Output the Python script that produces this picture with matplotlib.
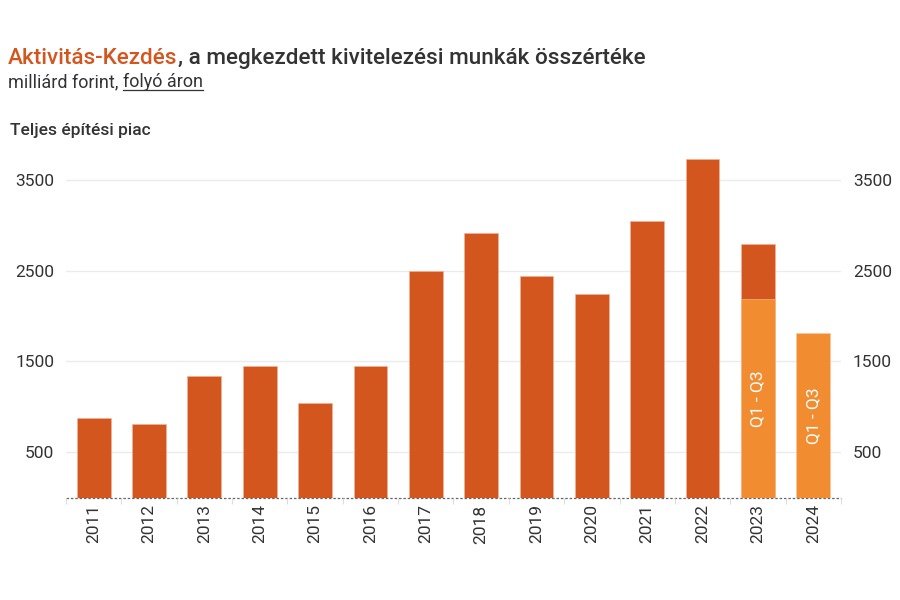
import matplotlib.pyplot as plt
import numpy as np
from matplotlib.lines import Line2D

# Adatok (milliárd forint, folyó áron)
evek = ["2011", "2012", "2013", "2014", "2015", "2016", "2017",
        "2018", "2019", "2020", "2021", "2022", "2023", "2024"]
teljes_ev = [876, 816, 1341, 1451, 1047, 1451, 2493,
             2912, 2444, 2246, 3047, 3728, 2797, None]
q1_q3 = [None] * 12 + [2184, 1813]
y_tickek = [500, 1500, 2500, 3500]

SOTET = "#D4561F"
VILAGOS = "#F28C30"
SZOVEG = "#333333"

plt.rcParams['font.family'] = ['Roboto', 'DejaVu Sans']

fig = plt.figure(figsize=(9, 6), dpi=100)
ax = fig.add_axes([0.0733, 0.1708, 0.8611, 0.5745])

x = np.arange(len(evek))
szel = 0.61

# Teljes év oszlopok
for i, v in enumerate(teljes_ev):
    if v is not None:
        ax.bar(x[i], v, width=szel, color=SOTET, edgecolor="#F5B49A", linewidth=0.4, zorder=2)

# Q1 - Q3 oszlopok
for i, v in enumerate(q1_q3):
    if v is not None:
        ax.bar(x[i], v, width=szel, color=VILAGOS, edgecolor="#F9C79A", linewidth=0.4, zorder=3)
        ax.text(x[i], v / 2, "Q1 - Q3", rotation=90, ha="center", va="center",
                color="white", fontsize=12.5, zorder=4)

ax.set_xlim(-0.5, len(evek) - 0.5)
ax.set_ylim(0, 3800)
ax.set_yticks(y_tickek)
ax.set_xticks(x)
ax.set_xticklabels(evek, rotation=90)
ax.set_xticks(np.arange(-0.5, len(evek), 1), minor=True)

for s in ax.spines.values():
    s.set_visible(False)
ax.grid(axis="y", color="#EBEBEB", linewidth=1, zorder=0)
# szaggatott alapvonal, az oszlopok mögött
ax.axhline(0, color="#666666", linewidth=0.9, linestyle=(0, (2, 1.5)), zorder=1.5, clip_on=False)

ax.tick_params(axis="y", left=False, right=False, labelleft=True, labelright=True,
               labelsize=12.5, labelcolor=SZOVEG, pad=5)
ax.tick_params(axis="x", which="major", length=0, labelsize=12.5, labelcolor=SZOVEG, pad=5)
ax.tick_params(axis="x", which="minor", length=4, color="#DDDDDD", width=0.8)

# Cím két színnel
fig.canvas.draw()
r = fig.canvas.get_renderer()
t1 = fig.text(8 / 900, 1 - 64 / 600, "Aktivitás-Kezdés", color=SOTET, fontsize=16.2,
              fontweight="medium", va="baseline")
bb = t1.get_window_extent(r)
fig.text(bb.x1 / 900, 1 - 64 / 600, ", a megkezdett kivitelezési munkák összértéke",
         color=SZOVEG, fontsize=16.2, fontweight="medium", va="baseline")

# Alcím, aláhúzással
t2 = fig.text(8 / 900, 1 - 87 / 600, "milliárd forint, ", color=SZOVEG, fontsize=13, va="baseline")
bb2 = t2.get_window_extent(r)
t3 = fig.text(bb2.x1 / 900, 1 - 87 / 600, "folyó áron", color=SZOVEG, fontsize=13, va="baseline")
bb3 = t3.get_window_extent(r)
fig.add_artist(Line2D([bb3.x0 / 900, bb3.x1 / 900], [1 - 90 / 600, 1 - 90 / 600],
                      color=SZOVEG, linewidth=0.9, transform=fig.transFigure))

fig.text(10 / 900, 1 - 135 / 600, "Teljes építési piac", color=SZOVEG, fontsize=12.5,
         fontweight="medium", va="baseline")

fig.savefig("out.png", dpi=100, facecolor="white")
